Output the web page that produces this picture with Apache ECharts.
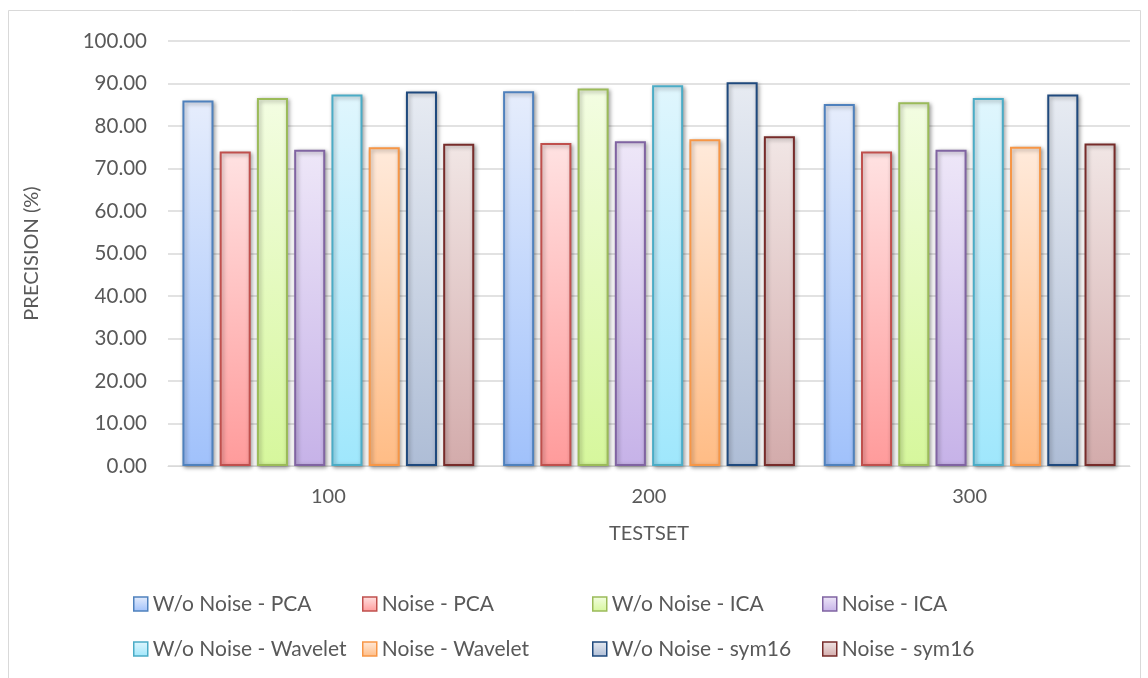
<!DOCTYPE html>
<html>
<head>
<meta charset="utf-8">
<script src="https://cdn.jsdelivr.net/npm/echarts@6/dist/echarts.min.js"></script>
<style>
  html, body { margin: 0; padding: 0; background: #fff; }
  #chart-container { width: 1148px; height: 678px; }
</style>
</head>
<body>
<div id="chart-container"></div>
<script>
var dom = document.getElementById('chart-container');
var myChart = echarts.init(dom, null, { renderer: 'canvas' });

// data
var testsets = ['100', '200', '300'];
var seriesNames = [
  'W/o Noise - PCA', 'Noise - PCA', 'W/o Noise - ICA', 'Noise - ICA',
  'W/o Noise - Wavelet', 'Noise - Wavelet', 'W/o Noise - sym16', 'Noise - sym16'
];
var woPCA = [86.0, 88.2, 85.2];
var noisePCA = [74.0, 76.0, 74.0];
var woICA = [86.6, 88.8, 85.6];
var noiseICA = [74.4, 76.4, 74.4];
var woWavelet = [87.4, 89.6, 86.6];
var noiseWavelet = [75.0, 76.9, 75.1];
var woSym16 = [88.1, 90.3, 87.4];
var noiseSym16 = [75.8, 77.6, 75.9];
var values = [woPCA, noisePCA, woICA, noiseICA, woWavelet, noiseWavelet, woSym16, noiseSym16];

// border, gradient top, gradient bottom
var styles = [
  ['#4f81bd', '#e6edfc', '#a0c1fb'],
  ['#c0504d', '#ffe2e2', '#ff9b9b'],
  ['#9bbb59', '#f3fde2', '#d6f79c'],
  ['#8064a2', '#eee7f8', '#c6b2e8'],
  ['#4bacc6', '#e0f6fd', '#9fe7fc'],
  ['#f79646', '#ffeadb', '#ffbc85'],
  ['#1f497d', '#e7ebf2', '#aebdd6'],
  ['#772c2a', '#f1e6e5', '#d3abab']
];

var font = 'Lato';
var textColor = '#595959';

function fill(i) {
  return {
    type: 'linear', x: 0, y: 0, x2: 0, y2: 1,
    colorStops: [
      { offset: 0, color: styles[i][1] },
      { offset: 1, color: styles[i][2] }
    ]
  };
}

var series = seriesNames.map(function (name, i) {
  return {
    name: name,
    type: 'bar',
    data: values[i],
    barGap: '20%',
    barCategoryGap: '9%',
    itemStyle: {
      color: fill(i),
      borderColor: styles[i][0],
      borderWidth: 2,
      shadowColor: 'rgba(0,0,0,0.35)',
      shadowBlur: 4,
      shadowOffsetX: 1.5,
      shadowOffsetY: 1.5
    }
  };
});

// four legend columns, two rows each
var legendCols = [133, 362, 592, 822];
var legends = legendCols.map(function (x, c) {
  return {
    orient: 'vertical',
    left: x,
    top: 593,
    padding: 0,
    itemWidth: 14,
    itemHeight: 14,
    itemGap: 23,
    icon: 'rect',
    selectedMode: false,
    data: [c, c + 4].map(function (idx) {
      return {
        name: seriesNames[idx],
        itemStyle: { color: fill(idx), borderColor: styles[idx][0], borderWidth: 1.5 }
      };
    }),
    textStyle: { fontFamily: font, fontSize: 21, lineHeight: 22, color: textColor }
  };
});

var option = {
  backgroundColor: '#fff',
  animation: false,
  graphic: [{
    type: 'rect',
    shape: { x: 8.5, y: 10.5, width: 1132, height: 680 },
    style: { fill: null, stroke: '#d9d9d9', lineWidth: 1 },
    silent: true
  }],
  grid: { left: 168, right: 18, top: 41, bottom: 212 },
  legend: legends,
  xAxis: {
    type: 'category',
    data: testsets,
    name: 'TESTSET',
    nameLocation: 'middle',
    nameGap: 58,
    nameTextStyle: { fontFamily: font, fontSize: 20, color: textColor },
    axisLine: { lineStyle: { color: '#d9d9d9', width: 1 } },
    axisTick: { show: false },
    axisLabel: { fontFamily: font, fontSize: 20, color: textColor, margin: 21 }
  },
  yAxis: {
    type: 'value',
    min: 0,
    max: 100,
    interval: 10,
    name: 'PRECISION (%)',
    nameLocation: 'middle',
    nameGap: 126,
    nameTextStyle: { fontFamily: font, fontSize: 20, color: textColor },
    axisLine: { show: false },
    axisTick: { show: false },
    splitLine: { lineStyle: { color: '#d9d9d9', width: 1.5 } },
    axisLabel: {
      fontFamily: font, fontSize: 20.5, color: textColor, margin: 21,
      formatter: function (v) { return v.toFixed(2); }
    }
  },
  series: series
};

myChart.setOption(option);
window.addEventListener('resize', myChart.resize);
</script>
</body>
</html>
